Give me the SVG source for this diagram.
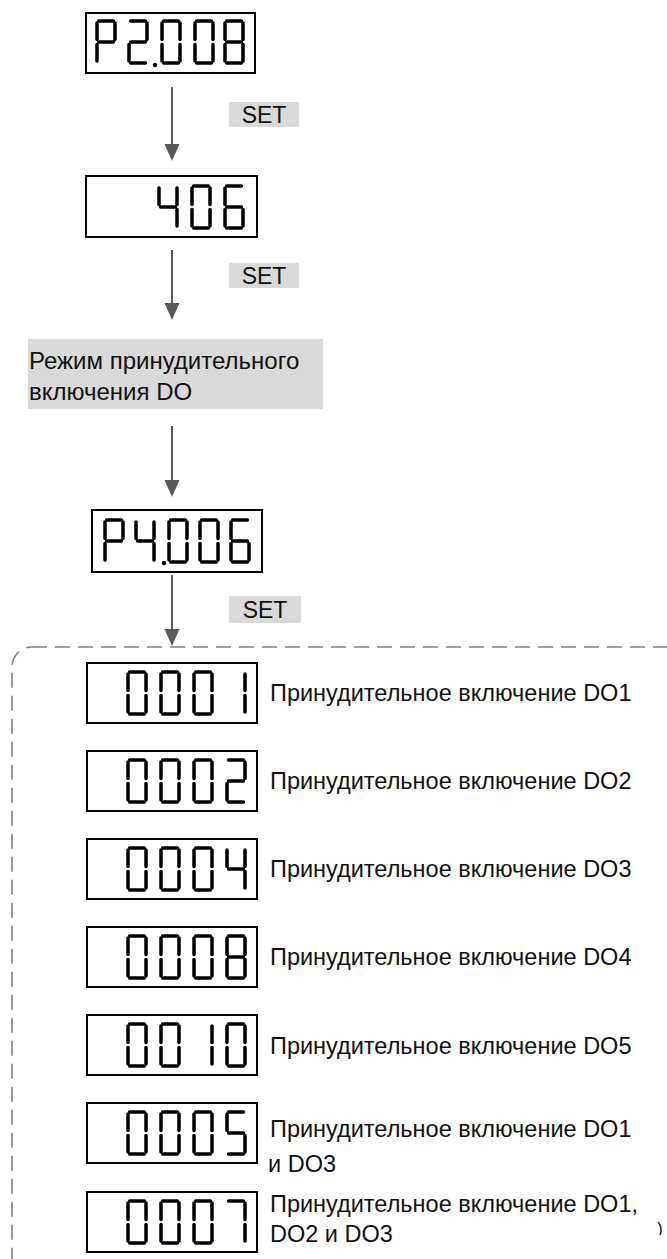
<svg xmlns="http://www.w3.org/2000/svg" xmlns:xlink="http://www.w3.org/1999/xlink" width="667" height="1259" viewBox="0 0 667 1259">
<style>
.box{fill:#fff;stroke:#000;stroke-width:2}
.seg{stroke:#000;stroke-width:3.5;stroke-linecap:round;fill:none}
.dot{fill:#000}
.conn{stroke:#595959;stroke-width:2;fill:none}
.tag{fill:#d9d9d9}
.tagtxt{font-family:"Liberation Sans",Arial,sans-serif;font-size:23px;fill:#111;text-anchor:middle}
.txt{font-family:"Liberation Sans",Arial,sans-serif;font-size:24px;fill:#111}
.lbl{font-family:"Liberation Sans",Arial,sans-serif;font-size:23.5px;fill:#111}
.dash{stroke:#808080;stroke-width:1.6;fill:none;stroke-dasharray:15 8}
</style>
<defs>
<path id="sa" d="M3.6,2H18.4"/>
<path id="sf" d="M2,4V20.6"/>
<path id="sb" d="M20,4V20.6"/>
<path id="sg" d="M3.6,23H18.4"/>
<path id="se" d="M2,25.4V42"/>
<path id="sc" d="M20,25.4V42"/>
<path id="sd" d="M3.6,44H18.4"/>
<g id="d0" class="seg"><use href="#sa"/><use href="#sb"/><use href="#sc"/><use href="#sd"/><use href="#se"/><use href="#sf"/></g>
<g id="d1" class="seg"><use href="#sb"/><use href="#sc"/></g>
<g id="d2" class="seg"><use href="#sa"/><use href="#sb"/><use href="#sg"/><use href="#se"/><use href="#sd"/></g>
<g id="d4" class="seg"><use href="#sf"/><use href="#sg"/><use href="#sb"/><use href="#sc"/></g>
<g id="d5" class="seg"><use href="#sa"/><use href="#sf"/><use href="#sg"/><use href="#sc"/><use href="#sd"/></g>
<g id="d6" class="seg"><use href="#sa"/><use href="#sf"/><use href="#sg"/><use href="#se"/><use href="#sd"/><use href="#sc"/></g>
<g id="d7" class="seg"><use href="#sa"/><use href="#sb"/><use href="#sc"/></g>
<g id="d8" class="seg"><use href="#sa"/><use href="#sb"/><use href="#sc"/><use href="#sd"/><use href="#se"/><use href="#sf"/><use href="#sg"/></g>
<g id="dP" class="seg"><use href="#sa"/><use href="#sb"/><use href="#sf"/><use href="#sg"/><use href="#se"/></g>
<path id="arrowhead" d="M-7.5,-17L7.5,-17L0,0Z" fill="#595959"/>
</defs>

<g id="connectors">
<line class="conn" x1="172" y1="87" x2="172" y2="146"/><use href="#arrowhead" x="172" y="161"/>
<line class="conn" x1="172" y1="250" x2="172" y2="305"/><use href="#arrowhead" x="172" y="320"/>
<line class="conn" x1="172" y1="426" x2="172" y2="482"/><use href="#arrowhead" x="172" y="497"/>
<line class="conn" x1="172" y1="575" x2="172" y2="631"/><use href="#arrowhead" x="172" y="646"/>
<rect class="tag" x="229" y="102" width="70" height="25"/><text class="tagtxt" x="264" y="123">SET</text>
<rect class="tag" x="229" y="263" width="70" height="25"/><text class="tagtxt" x="264" y="284">SET</text>
<rect class="tag" x="229" y="596" width="72" height="27"/><text class="tagtxt" x="265" y="618">SET</text>
</g>

<g id="group-box">
<rect class="dash" x="12" y="647" width="690" height="630" rx="20"/>
<path d="M658,1222 Q663,1228 660,1235" stroke="#333" stroke-width="1.6" fill="none"/>
</g>

<g id="disp-p2008">
<rect class="box" x="86" y="13" width="169" height="60"/>
<use href="#dP" x="95" y="19"/><use href="#d2" x="127" y="19"/><use href="#d0" x="160" y="19"/><use href="#d0" x="193" y="19"/><use href="#d8" x="223" y="19"/>
<circle class="dot" cx="155" cy="65" r="2.2"/>
</g>

<g id="disp-406">
<rect class="box" x="86" y="176" width="171" height="61"/>
<use href="#d4" x="157" y="184"/><use href="#d0" x="190" y="184"/><use href="#d6" x="223" y="184"/>
</g>

<g id="mode-box">
<rect class="tag" x="28" y="339" width="295" height="70"/>
<text class="txt" x="29" y="369">Режим принудительного</text>
<text class="txt" x="29" y="400">включения DO</text>
</g>

<g id="disp-p4006">
<rect class="box" x="92" y="510" width="170" height="62"/>
<use href="#dP" x="103" y="518"/><use href="#d4" x="134" y="518"/><use href="#d0" x="167" y="518"/><use href="#d0" x="198" y="518"/><use href="#d6" x="229" y="518"/>
<circle class="dot" cx="164" cy="563" r="2.2"/>
</g>

<g id="row1">
<rect class="box" x="87" y="663" width="170" height="60"/>
<use href="#d0" x="126" y="670"/><use href="#d0" x="159" y="670"/><use href="#d0" x="192" y="670"/><use href="#d1" x="225" y="670"/>
<text class="lbl" x="270" y="701">Принудительное включение DO1</text>
</g>
<g id="row2">
<rect class="box" x="87" y="751" width="170" height="60"/>
<use href="#d0" x="126" y="758"/><use href="#d0" x="159" y="758"/><use href="#d0" x="192" y="758"/><use href="#d2" x="225" y="758"/>
<text class="lbl" x="270" y="789">Принудительное включение DO2</text>
</g>
<g id="row3">
<rect class="box" x="87" y="839" width="170" height="60"/>
<use href="#d0" x="126" y="846"/><use href="#d0" x="159" y="846"/><use href="#d0" x="192" y="846"/><use href="#d4" x="225" y="846"/>
<text class="lbl" x="270" y="877">Принудительное включение DO3</text>
</g>
<g id="row4">
<rect class="box" x="87" y="927" width="170" height="60"/>
<use href="#d0" x="126" y="934"/><use href="#d0" x="159" y="934"/><use href="#d0" x="192" y="934"/><use href="#d8" x="225" y="934"/>
<text class="lbl" x="270" y="965">Принудительное включение DO4</text>
</g>
<g id="row5">
<rect class="box" x="87" y="1015" width="170" height="60"/>
<use href="#d0" x="126" y="1022"/><use href="#d0" x="159" y="1022"/><use href="#d1" x="192" y="1022"/><use href="#d0" x="225" y="1022"/>
<text class="lbl" x="270" y="1054">Принудительное включение DO5</text>
</g>
<g id="row6">
<rect class="box" x="87" y="1103" width="170" height="60"/>
<use href="#d0" x="126" y="1110"/><use href="#d0" x="159" y="1110"/><use href="#d0" x="192" y="1110"/><use href="#d5" x="225" y="1110"/>
<text class="lbl" x="270" y="1137">Принудительное включение DO1</text>
<text class="lbl" x="268" y="1172">и DO3</text>
</g>
<g id="row7">
<rect class="box" x="87" y="1192" width="170" height="60"/>
<use href="#d0" x="126" y="1199"/><use href="#d0" x="159" y="1199"/><use href="#d0" x="192" y="1199"/><use href="#d7" x="225" y="1199"/>
<text class="lbl" x="270" y="1212">Принудительное включение DO1,</text>
<text class="lbl" x="270" y="1242">DO2 и DO3</text>
</g>
</svg>
